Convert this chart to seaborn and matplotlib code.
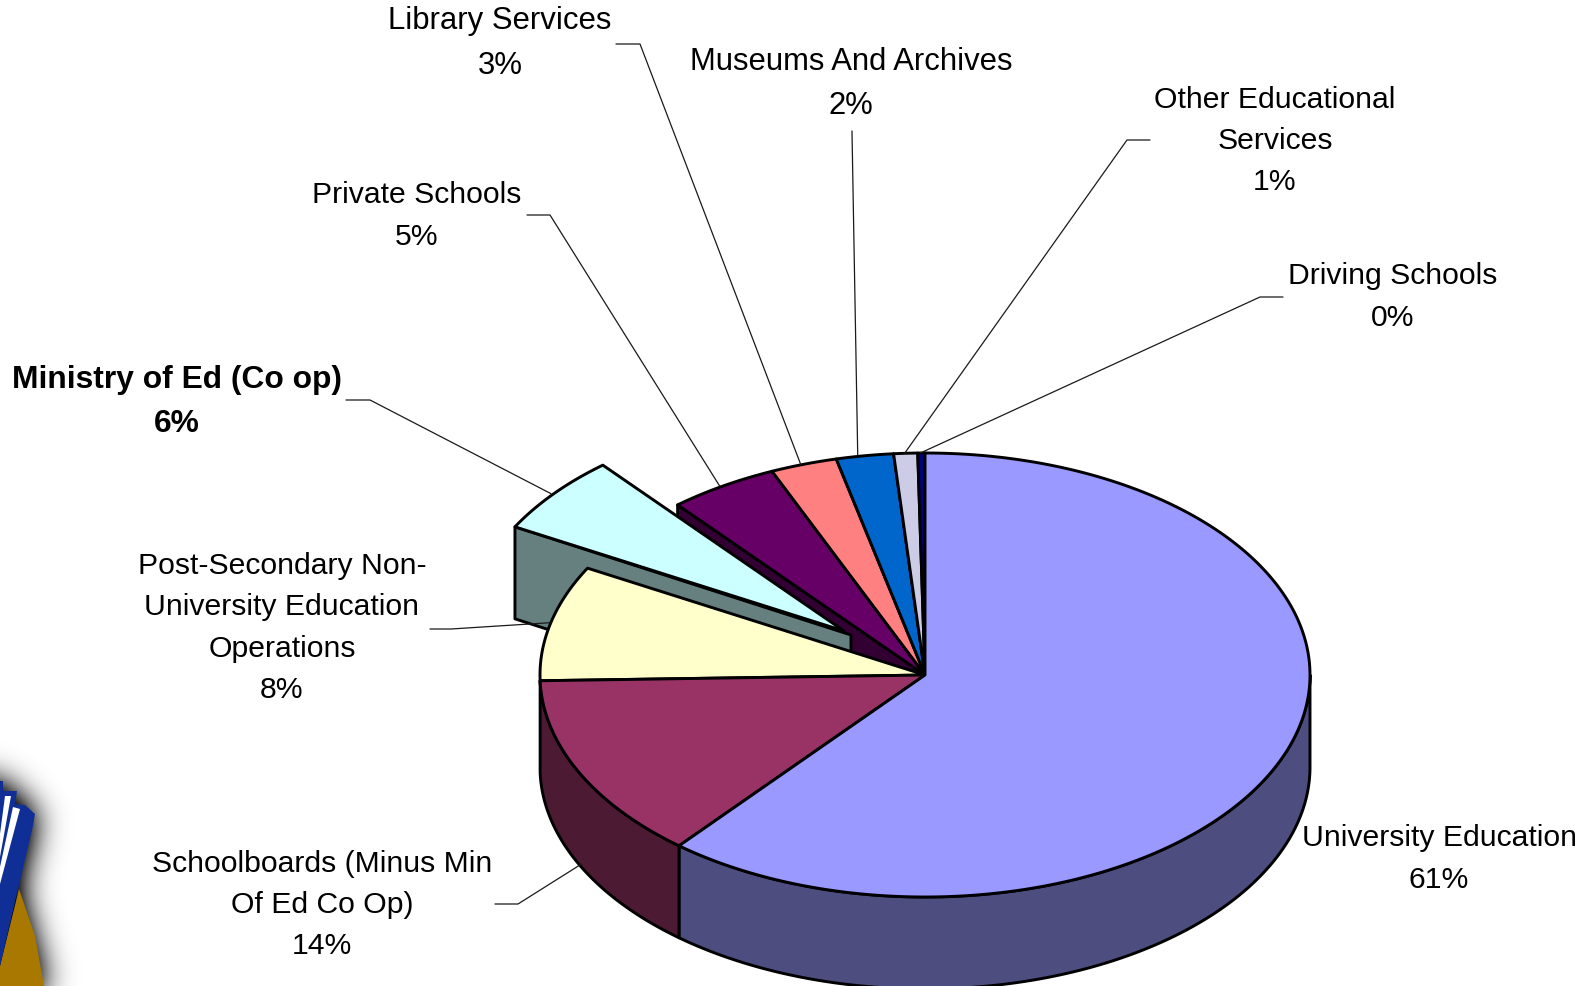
import numpy as np
import matplotlib
matplotlib.use("Agg")
import matplotlib.pyplot as plt
from matplotlib.path import Path
import seaborn as sns

# Education spending shares, listed clockwise from twelve o'clock
categories = [
    "University Education",
    "Schoolboards (Minus Min\nOf Ed Co Op)",
    "Post-Secondary Non-\nUniversity Education\nOperations",
    "Ministry of Ed (Co op)",
    "Private Schools",
    "Library Services",
    "Museums And Archives",
    "Other Educational\nServices",
    "Driving Schools",
]
shares = [61.0, 13.55, 8.4, 5.9, 4.6, 2.8, 2.4, 1.0, 0.3]

top_colors = ["#9999FF", "#993366", "#FFFFCC", "#CCFFFF", "#660066",
              "#FF8080", "#0066CC", "#CCCCE6", "#000080"]
side_colors = ["#4D4D80", "#4D1A33", "#808066", "#668080", "#330033",
               "#804040", "#003366", "#666673", "#000040"]

# Layout of the tilted pie, in pixels
CX, CY, RX, RY, DEPTH = 925.0, 676.0, 385.0, 222.0, 92.0
EXPLODED = 3
EXPLODE_DX, EXPLODE_DY = -81.0, -44.0
EXPLODE_R = 0.975
CUT_OVERHANG = (7.0, 4.0)
EDGE = 2.1

label_pos = [(1439, 859), (322, 905), (282, 628), (177, 402), (417, 216),
             (500, 43.5), (851, 84), (1275, 141), (1393, 297)]
label_sizes = [21.7, 21.7, 21.7, 22.9, 21.7, 22.4, 22.3, 21.7, 21.7]
# Leader elbow: where the line leaves its label and where it bends
elbows = [None, ((495, 905), (518, 905)), ((430, 630), (451, 630)),
          ((346, 401), (370, 401)), ((527, 216), (550, 216)),
          ((616, 45), (640, 45)), ((852, 132), (852, 133)),
          ((1150, 141), (1127, 141)), ((1283, 298), (1260, 298))]
# Sideways nudge of each leader's end along the rim
leader_nudge = [0, 3, 0, -3, -3, -3, -7, -1, -1]

sns.set_theme(style="white", font="Liberation Sans")
palette = sns.color_palette(top_colors)
side_palette = sns.color_palette(side_colors)

fig = plt.figure(figsize=(15.88, 9.87), dpi=100, facecolor="white")
ax = fig.add_axes([0, 0, 1, 1])
ax.set_xlim(0, 1588)
ax.set_ylim(987, 0)
ax.axis("off")

edges = np.concatenate([[0.0], np.cumsum(shares)]) * 360.0 / sum(shares)


def rim(a0, a1, ox=0.0, oy=0.0, r=1.0):
    t = np.radians(np.linspace(a0, a1, max(int(abs(a1 - a0) * 2), 2)))
    return CX + ox + RX * r * np.sin(t), CY + oy - RY * r * np.cos(t)


def fill(x, y, color, z):
    ax.fill(x, y, facecolor=color, edgecolor="black", linewidth=EDGE,
            joinstyle="round", zorder=z, clip_on=True)


def top_face(i, z):
    a0, a1 = edges[i], edges[i + 1]
    ox, oy, r = (EXPLODE_DX, EXPLODE_DY, EXPLODE_R) if i == EXPLODED else (0, 0, 1)
    x, y = rim(a0, a1, ox, oy, r)
    fill(np.r_[CX + ox, x], np.r_[CY + oy, y], palette[i], z)


def cut_face(i, z):
    ox, oy, r = (EXPLODE_DX, EXPLODE_DY, EXPLODE_R) if i == EXPLODED else (0, 0, 1)
    x, y = rim(edges[i], edges[i], ox, oy, r)
    px, py = x[0], y[0]
    ix, iy = CX + ox, CY + oy
    if i == EXPLODED:
        ix, iy = ix + CUT_OVERHANG[0], iy + CUT_OVERHANG[1]
    fill([ix, px, px, ix], [iy, py, py + DEPTH, iy + DEPTH], side_palette[i], z)


def wall(i, z):
    a0, a1 = max(edges[i], 90.0), min(edges[i + 1], 270.0)
    if a1 <= a0:
        return
    x, y = rim(a0, a1)
    fill(np.r_[x, x[::-1]], np.r_[y, y[::-1] + DEPTH], side_palette[i], z)


# Back slices first, then the pulled-out slice, then the front of the pie
cut_face(4, 2)
for i in range(4, len(shares)):
    top_face(i, 3)
cut_face(EXPLODED, 4)
top_face(EXPLODED, 5)
wall(0, 6)
wall(1, 6)
for i in (2, 1, 0):
    top_face(i, 7)

# Category labels with rounded percentages and thin leader lines
for i, name in enumerate(categories):
    bold = i == EXPLODED
    ax.text(*label_pos[i], f"{name}\n{shares[i]:.0f}%", ha="center", va="center",
            multialignment="center", fontsize=label_sizes[i], linespacing=1.61,
            fontweight="bold" if bold else "normal", color="black", zorder=9)
    if elbows[i] is None:
        continue
    mid = (edges[i] + edges[i + 1]) / 2
    if i == EXPLODED:
        ex, ey = rim(mid, mid, EXPLODE_DX, EXPLODE_DY, EXPLODE_R)
    else:
        ex, ey = rim(mid, mid)
    end_y = ey[0] + (DEPTH if 90 < mid < 270 else 0)
    (x0, y0), (x1, y1) = elbows[i]
    ax.plot([x0, x1, ex[0] + leader_nudge[i]], [y0, y1, end_y],
            color="#1a1a1a", lw=0.9, zorder=8)

# Corner emblem with its soft drop shadow
book_x = [0, 3, 3, 17, 15, 25, 35, 33, 18, 0]
book_y = [782, 782, 792, 792, 805, 806, 815, 827, 890, 967]
cover_x = [19, 35, 44, 0, 0]
cover_y = [890, 937, 987, 987, 967]
page1_x = [5, 11, 0, 0]
page1_y = [797, 797, 858, 835]
page2_x = [13, 20, 0, 0]
page2_y = [808, 810, 885, 868]

gx, gy = np.meshgrid(np.arange(-60, 170), np.arange(690, 1047))
pts = np.c_[gx.ravel(), gy.ravel()]
outline = Path(np.c_[book_x[:-1] + [44, -60, -60], book_y[:-1] + [987, 1047, 782]])
mask = outline.contains_points(pts).reshape(gx.shape).astype(float)
sigma = 16.0
k = np.exp(-0.5 * (np.arange(-50, 51) / sigma) ** 2)
k /= k.sum()
soft = np.apply_along_axis(lambda v: np.convolve(v, k, mode="same"), 0, mask)
soft = np.apply_along_axis(lambda v: np.convolve(v, k, mode="same"), 1, soft)
rgba = np.zeros(gx.shape + (4,))
rgba[..., 3] = np.clip(soft * 1.5, 0, 1)
ax.imshow(rgba, extent=(-60.5, 169.5, 1046.5, 689.5), interpolation="bilinear",
          zorder=1, aspect="auto")
ax.set_xlim(0, 1588)
ax.set_ylim(987, 0)
ax.fill(cover_x, cover_y, color="#A87800", lw=0, zorder=1.2)
ax.fill(book_x, book_y, color="#0F2F96", lw=0, zorder=1.3)
ax.fill(page1_x, page1_y, color="white", lw=0, zorder=1.4)
ax.fill(page2_x, page2_y, color="white", lw=0, zorder=1.4)

fig.savefig("out.png", dpi=100, facecolor="white")
